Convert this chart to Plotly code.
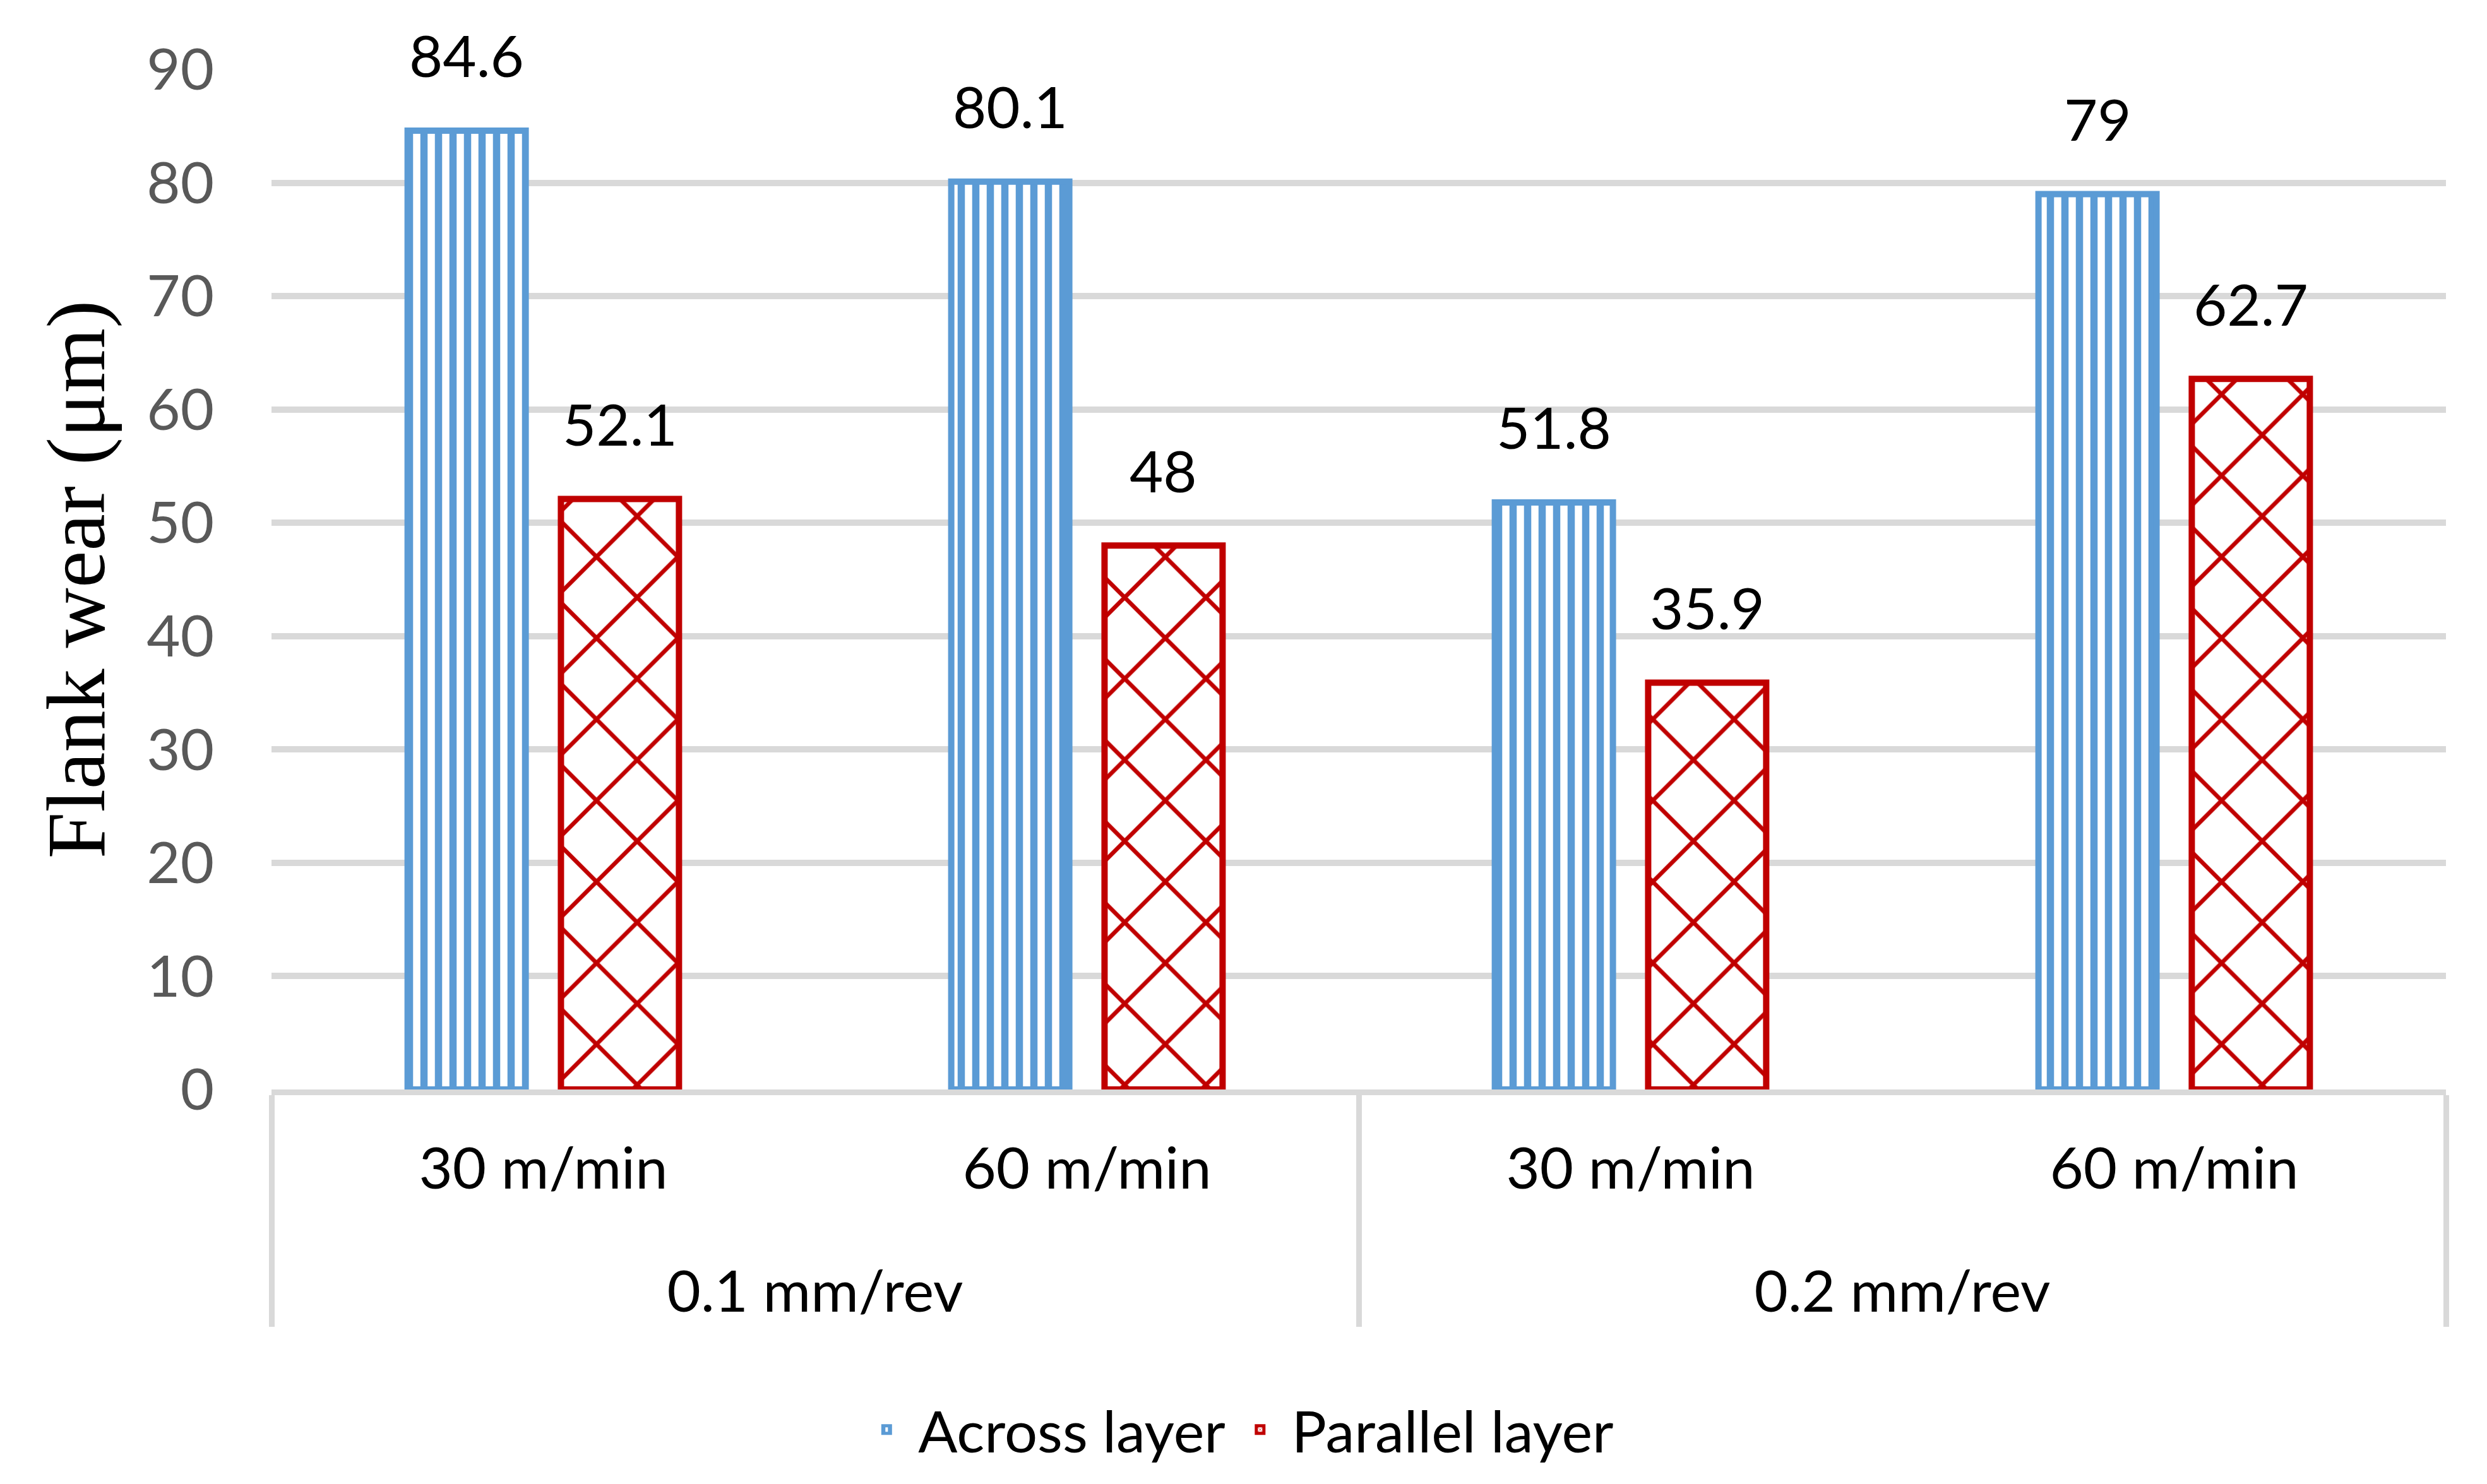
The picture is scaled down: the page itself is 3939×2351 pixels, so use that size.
import plotly.graph_objects as go

feed_rates = ["0.1 mm/rev", "0.1 mm/rev", "0.2 mm/rev", "0.2 mm/rev"]
cutting_speeds = ["30 m/min", "60 m/min", "30 m/min", "60 m/min"]
across_layer = [84.6, 80.1, 51.8, 79]
parallel_layer = [52.1, 48, 35.9, 62.7]
y_ticks = [0, 10, 20, 30, 40, 50, 60, 70, 80, 90]

BLUE = "#5B9BD5"
RED = "#C00000"
GRID = "#D9D9D9"
SANS = "Lato, 'Open Sans', sans-serif"
FS = 92
BARGAP = 0.436
BARGROUPGAP = 0.23

# outer level gets an empty first line to push it lower (more row spacing)
outer = ["<br>" + f for f in feed_rates]
xcats = [outer, cutting_speeds]

fig = go.Figure()
fig.add_trace(go.Bar(
    name="Across layer",
    x=xcats,
    y=across_layer,
    marker=dict(
        color="white",
        line=dict(color=BLUE, width=10),
        pattern=dict(shape="|", fgcolor=BLUE, bgcolor="white", size=23,
                     solidity=0.5, fillmode="replace"),
    ),
))
fig.add_trace(go.Bar(
    name="Parallel layer",
    x=xcats,
    y=parallel_layer,
    marker=dict(
        color="white",
        line=dict(color=RED, width=10),
        pattern=dict(shape="x", fgcolor=RED, bgcolor="white", size=91,
                     solidity=0.14, fillmode="replace"),
    ),
))

# data labels above bars
offset = (1 - BARGAP) / 4
annotations = []
for i, (a, p) in enumerate(zip(across_layer, parallel_layer)):
    for val, dx in ((a, -offset), (p, offset)):
        annotations.append(dict(
            x=i + dx, y=val, xref="x", yref="y",
            text=f"{val:g}", showarrow=False,
            yanchor="middle", yshift=120,
            font=dict(family=SANS, size=FS, color="black"),
        ))

fig.update_layout(
    width=3939, height=2351,
    margin=dict(l=422, r=73, t=102, b=633),
    paper_bgcolor="white", plot_bgcolor="white",
    barmode="group", bargap=BARGAP, bargroupgap=BARGROUPGAP,
    annotations=annotations,
    legend=dict(
        orientation="h", xref="container", yref="container",
        x=0.495, xanchor="center", y=0.04, yanchor="middle",
        font=dict(family=SANS, size=FS, color="black"),
        itemwidth=90,
    ),
    xaxis=dict(
        type="multicategory",
        showline=True, linecolor=GRID, linewidth=9,
        showdividers=True, dividercolor=GRID, dividerwidth=9,
        tickfont=dict(family=SANS, size=FS, color="black"),
        ticklabelstandoff=38,
        showgrid=False, ticks="",
    ),
    yaxis=dict(
        range=[0, 90], tickvals=y_ticks, showgrid=True,
        gridcolor=GRID, gridwidth=10, zeroline=False, showline=False,
        tickfont=dict(family=SANS, size=FS, color="#595959"),
        ticklabelstandoff=90,
        title=dict(text="Flank wear (μm)",
                   font=dict(family="'Liberation Serif', 'Times New Roman', serif",
                             size=132, color="black"),
                   standoff=22),
    ),
)

fig.write_html("out.html")
